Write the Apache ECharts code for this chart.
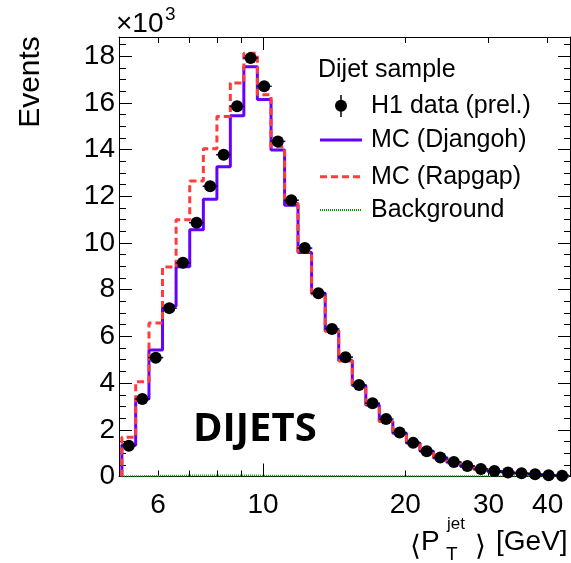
<!DOCTYPE html>
<html><head><meta charset="utf-8">
<script src="https://cdn.jsdelivr.net/npm/echarts@6/dist/echarts.min.js"></script>
<style>html,body{margin:0;padding:0;background:#fff}#c{width:571px;height:563px}</style>
</head><body><div id="c"></div>
<script>
// bin edges of <PT jet> [GeV] (log-uniform bins)
const binEdges = [5.03, 5.38, 5.74, 6.13, 6.55, 7.00, 7.48, 7.99, 8.53, 9.11, 9.73, 10.40, 11.11, 11.86, 12.67, 13.54, 14.46, 15.45, 16.50, 17.62, 18.82, 20.11, 21.48, 22.94, 24.51, 26.18, 27.96, 29.87, 31.91, 34.08, 36.41, 38.89, 41.54, 44.37];
// events per bin
const h1Data = [1320, 3320, 5090, 7210, 9150, 10870, 12430, 13780, 15850, 17920, 16710, 14350, 11830, 9780, 7850, 6320, 5110, 3920, 3140, 2460, 1880, 1440, 1080, 810, 620, 450, 320, 240, 170, 140, 100, 50, 30];
const mcDjangoh = [1350, 3320, 5420, 7300, 8980, 10570, 11870, 13260, 15450, 17550, 16140, 13980, 11620, 9590, 7850, 6240, 4970, 3900, 3060, 2350, 1850, 1430, 1080, 800, 600, 430, 300, 210, 150, 100, 70, 40, 20];
const mcRapgap = [1680, 4060, 6570, 8970, 10990, 12650, 14030, 15420, 16850, 18120, 16350, 14120, 11700, 9620, 7820, 6220, 4950, 3880, 3050, 2350, 1840, 1420, 1070, 790, 590, 420, 300, 210, 150, 100, 70, 40, 20];
const background = [10, 20, 30, 30, 40, 40, 40, 40, 40, 40, 30, 30, 30, 20, 20, 20, 20, 10, 10, 10, 10, 10, 10, 10, 10, 10, 10, 10, 10, 10, 10, 10, 10];
// axes
const xTickLabels = [6, 10, 20, 30, 40];
const xMajorTicks = [10];
const xMinorTicks = [6, 7, 8, 9, 20, 30, 40];
const yTickLabels = [0, 2, 4, 6, 8, 10, 12, 14, 16, 18]; // x10^3
const xRange = [4.96, 44.6];
const yMax = 18820;

const lg = Math.log10;
const yMajor = yTickLabels.map(v => v * 1000);
const yMinor = [];
for (let v = 500; v < yMax; v += 500) if (v % 2000 !== 0) yMinor.push(v);

function stepPoints(vals) {
  const pts = [[lg(binEdges[0]), 0]];
  vals.forEach((v, i) => { pts.push([lg(binEdges[i]), v]); pts.push([lg(binEdges[i + 1]), v]); });
  pts.push([lg(binEdges[binEdges.length - 1]), 0]);
  return pts;
}
const FONT = 'Liberation Sans, Arial, Helvetica, sans-serif';

function xAx(pos, ticks, len, withLabels, showLine) {
  return {
    type: 'value', position: pos, min: lg(xRange[0]), max: lg(xRange[1]),
    axisLine: { show: showLine, onZero: false, lineStyle: { color: '#000', width: 1 } },
    axisTick: { show: true, inside: true, length: len, customValues: ticks.map(lg), lineStyle: { color: '#000', width: 1 } },
    axisLabel: withLabels ? { show: true, customValues: xTickLabels.map(lg), formatter: v => String(Math.round(Math.pow(10, v))), fontSize: 28, fontFamily: FONT, color: '#000', margin: 15 } : { show: false },
    splitLine: { show: false }
  };
}
function yAx(pos, ticks, len, withLabels, showLine) {
  return {
    type: 'value', position: pos, min: 0, max: yMax,
    axisLine: { show: showLine, onZero: false, lineStyle: { color: '#000', width: 1 } },
    axisTick: { show: true, inside: true, length: len, customValues: ticks, lineStyle: { color: '#000', width: 1 } },
    axisLabel: withLabels ? { show: true, customValues: yMajor, formatter: v => String(Math.round(v / 1000)), fontSize: 28, fontFamily: FONT, color: '#000', margin: 4 } : { show: false },
    splitLine: { show: false }
  };
}

const chart = echarts.init(document.getElementById('c'), null, { renderer: 'canvas' });
const legendX = 320, legendTxt = 371;
const option = {
  animation: false,
  backgroundColor: '#fff',
  grid: { left: 119, right: 1, top: 37, bottom: 86.5, containLabel: false, outerBoundsMode: 'none' },
  xAxis: [
    xAx('bottom', xMajorTicks, 13, true, true),
    xAx('bottom', xMinorTicks, 6, false, false),
    xAx('top', xMajorTicks, 13, false, true),
    xAx('top', xMinorTicks, 6, false, false)
  ],
  yAxis: [
    yAx('left', yMajor, 13, true, true),
    yAx('left', yMinor, 7, false, false),
    yAx('right', yMajor, 12, false, true),
    yAx('right', yMinor, 6, false, false)
  ],
  series: [
    { name: 'MC (Djangoh)', type: 'line', data: stepPoints(mcDjangoh), symbol: 'none', lineStyle: { color: '#6600ff', width: 3 }, z: 2 },
    { name: 'MC (Rapgap)', type: 'line', data: stepPoints(mcRapgap), symbol: 'none', lineStyle: { color: '#ff3b3b', width: 3, type: [7, 4] }, z: 3 },
    { name: 'Background', type: 'line', data: stepPoints(background), symbol: 'none', lineStyle: { color: '#009900', width: 2, type: [1, 1] }, z: 4 },
    { name: 'xerr', type: 'custom', z: 5,
      data: h1Data.map((v, i) => [lg(binEdges[i]), lg(binEdges[i + 1]), v]),
      renderItem: (params, api) => {
        const a = api.coord([api.value(0), api.value(2)]);
        const b = api.coord([api.value(1), api.value(2)]);
        const c = (a[0] + b[0]) / 2;
        return { type: 'line', shape: { x1: c - 7.5, y1: a[1], x2: c + 7.5, y2: b[1] }, style: { stroke: '#000080', lineWidth: 1.5 } };
      } },
    { name: 'H1 data (prel.)', type: 'scatter', z: 6,
      data: h1Data.map((v, i) => [(lg(binEdges[i]) + lg(binEdges[i + 1])) / 2, v]),
      symbol: 'circle', symbolSize: 12, itemStyle: { color: '#000', opacity: 1 } }
  ],
  graphic: [
    { type: 'text', x: 31, y: 82, rotation: Math.PI / 2, style: { text: 'Events', fontSize: 30, fontFamily: FONT, fill: '#000', align: 'center', verticalAlign: 'middle' } },
    { type: 'text', x: 116, y: 24, style: { text: '\u00d710', fontSize: 28, fontFamily: FONT, fill: '#000', align: 'left', verticalAlign: 'middle' } },
    { type: 'text', x: 165, y: 15, style: { text: '3', fontSize: 19, fontFamily: FONT, fill: '#000', align: 'left', verticalAlign: 'middle' } },
    { type: 'text', x: 193, y: 430, style: { text: 'DIJETS', fontSize: 40, fontWeight: 'bold', fontFamily: 'Open Sans, sans-serif', fill: '#000', align: 'left', verticalAlign: 'middle' } },
    // x title
    { type: 'text', x: 410, y: 547, style: { text: '\u27e8', fontSize: 28, fontFamily: FONT, fill: '#000', align: 'left', verticalAlign: 'middle' } },
    { type: 'text', x: 421, y: 542.5, style: { text: 'P', fontSize: 28, fontFamily: FONT, fill: '#000', align: 'left', verticalAlign: 'middle' } },
    { type: 'text', x: 447, y: 524, style: { text: 'jet', fontSize: 17, fontFamily: FONT, fill: '#000', align: 'left', verticalAlign: 'middle' } },
    { type: 'text', x: 446, y: 555, style: { text: 'T', fontSize: 19, fontFamily: FONT, fill: '#000', align: 'left', verticalAlign: 'middle' } },
    { type: 'text', x: 475, y: 547, style: { text: '\u27e9', fontSize: 28, fontFamily: FONT, fill: '#000', align: 'left', verticalAlign: 'middle' } },
    { type: 'text', x: 496, y: 542.5, style: { text: '[GeV]', fontSize: 28, fontFamily: FONT, fill: '#000', align: 'left', verticalAlign: 'middle' } },
    // legend
    { type: 'text', x: 318, y: 70, style: { text: 'Dijet sample', fontSize: 25, fontFamily: FONT, fill: '#000', align: 'left', verticalAlign: 'middle' } },
    { type: 'line', shape: { x1: 341, y1: 95, x2: 341, y2: 117 }, style: { stroke: '#000', lineWidth: 1.5 } },
    { type: 'circle', shape: { cx: 341, cy: 105.7, r: 6 }, style: { fill: '#000' } },
    { type: 'text', x: legendTxt, y: 105.7, style: { text: 'H1 data (prel.)', fontSize: 25, fontFamily: FONT, fill: '#000', align: 'left', verticalAlign: 'middle' } },
    { type: 'line', shape: { x1: legendX, y1: 140, x2: 362, y2: 140 }, style: { stroke: '#6600ff', lineWidth: 3 } },
    { type: 'text', x: legendTxt, y: 140, style: { text: 'MC (Djangoh)', fontSize: 25, fontFamily: FONT, fill: '#000', align: 'left', verticalAlign: 'middle' } },
    { type: 'line', shape: { x1: legendX, y1: 176.7, x2: 362, y2: 176.7 }, style: { stroke: '#ff3b3b', lineWidth: 3, lineDash: [7, 4] } },
    { type: 'text', x: legendTxt, y: 176.7, style: { text: 'MC (Rapgap)', fontSize: 25, fontFamily: FONT, fill: '#000', align: 'left', verticalAlign: 'middle' } },
    { type: 'line', shape: { x1: legendX, y1: 210, x2: 362, y2: 210 }, style: { stroke: '#009900', lineWidth: 2, lineDash: [1, 1] } },
    { type: 'text', x: legendTxt, y: 210, style: { text: 'Background', fontSize: 25, fontFamily: FONT, fill: '#000', align: 'left', verticalAlign: 'middle' } }
  ]
};
chart.setOption(option);
</script></body></html>
